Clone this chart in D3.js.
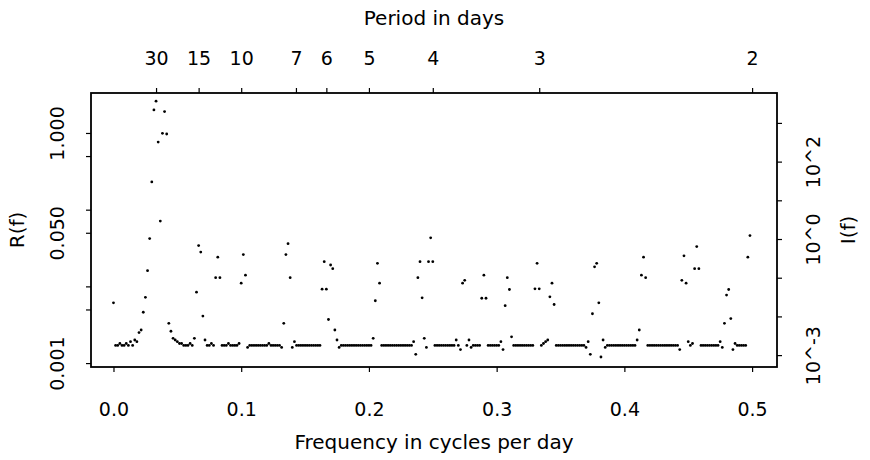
<!DOCTYPE html>
<html>
<head>
<meta charset="utf-8">
<script src="https://cdn.jsdelivr.net/npm/d3@7"></script>
<style>
  body { margin: 0; background: #fff; }
  text { font-family: 'DejaVu Sans', sans-serif; fill: #000; }
</style>
</head>
<body>
<div id="chart"></div>
<script>
// Periodogram: R(f) on the left log axis, I(f) on the right, frequency k / nDays

const nDays = 600
const freqTicks = [0, 0.1, 0.2, 0.3, 0.4, 0.5]
const periodTicks = [30, 15, 10, 7, 6, 5, 4, 3, 2]
const rTicks = [1, 0.5, 0.1, 0.05, 0.01, 0.005, 0.001]
const rTickLabels = ['1.000', '', '', '0.050', '', '', '0.001']
const iTicks = [1e-3, 1e-2, 1e-1, 1e0, 1e1, 1e2, 1e3]
const iTickLabels = ['10^-3', '', '', '10^0', '', '10^2', '']

// R(f), one value per Fourier frequency k = 0..299
const rf = [
  0.0061, 0.0017, 0.0017, 0.0018, 0.0017, 0.0017, 0.0018, 0.0017, 0.0019, 0.0017,
  0.0020, 0.0019, 0.0025, 0.0027, 0.0046, 0.0072, 0.016, 0.042, 0.23, 2.0,
  2.6, 0.76, 0.071, 0.99, 1.9, 0.97, 0.0033, 0.0026, 0.0021, 0.0020,
  0.0019, 0.0018, 0.0018, 0.0017, 0.0017, 0.0017, 0.0018, 0.0017, 0.0021, 0.0084,
  0.034, 0.028, 0.0041, 0.0020, 0.0017, 0.0017, 0.0018, 0.0017, 0.013, 0.024,
  0.013, 0.0017, 0.0017, 0.0017, 0.0018, 0.0017, 0.0017, 0.0017, 0.0017, 0.0018,
  0.011, 0.026, 0.014, 0.0016, 0.0017, 0.0017, 0.0017, 0.0017, 0.0017, 0.0017,
  0.0017, 0.0017, 0.0017, 0.0018, 0.0017, 0.0017, 0.0017, 0.0017, 0.0017, 0.0016,
  0.0033, 0.026, 0.036, 0.013, 0.0016, 0.0019, 0.0017, 0.0017, 0.0017, 0.0017,
  0.0017, 0.0017, 0.0017, 0.0017, 0.0017, 0.0017, 0.0017, 0.0017, 0.0092, 0.021,
  0.0092, 0.0037, 0.019, 0.017, 0.0027, 0.0020, 0.0016, 0.0017, 0.0017, 0.0017,
  0.0017, 0.0017, 0.0017, 0.0017, 0.0017, 0.0017, 0.0017, 0.0017, 0.0017, 0.0017,
  0.0017, 0.0017, 0.0021, 0.0065, 0.020, 0.011, 0.0017, 0.0017, 0.0017, 0.0017,
  0.0017, 0.0017, 0.0017, 0.0017, 0.0017, 0.0017, 0.0017, 0.0017, 0.0017, 0.0017,
  0.0017, 0.0019, 0.0013, 0.013, 0.021, 0.0071, 0.0021, 0.0016, 0.021, 0.043,
  0.021, 0.0017, 0.0017, 0.0017, 0.0017, 0.0017, 0.0017, 0.0017, 0.0017, 0.0017,
  0.0017, 0.0020, 0.0017, 0.0015, 0.011, 0.012, 0.0017, 0.0020, 0.0016, 0.0017,
  0.0017, 0.0017, 0.0017, 0.0070, 0.014, 0.0070, 0.0017, 0.0017, 0.0017, 0.0017,
  0.0017, 0.0017, 0.0019, 0.0015, 0.0056, 0.013, 0.0091, 0.0022, 0.0017, 0.0017,
  0.0017, 0.0017, 0.0017, 0.0017, 0.0017, 0.0017, 0.0017, 0.0017, 0.0093, 0.020,
  0.0093, 0.0017, 0.0018, 0.0019, 0.0020, 0.0073, 0.011, 0.0058, 0.0017, 0.0017,
  0.0017, 0.0017, 0.0017, 0.0017, 0.0017, 0.0017, 0.0017, 0.0017, 0.0017, 0.0017,
  0.0017, 0.0017, 0.0016, 0.0019, 0.0013, 0.0044, 0.018, 0.020, 0.0061, 0.0012,
  0.0020, 0.0016, 0.0017, 0.0017, 0.0017, 0.0017, 0.0017, 0.0017, 0.0017, 0.0017,
  0.0017, 0.0017, 0.0017, 0.0017, 0.0017, 0.0017, 0.0020, 0.0027, 0.014, 0.024,
  0.013, 0.0017, 0.0017, 0.0017, 0.0017, 0.0017, 0.0017, 0.0017, 0.0017, 0.0017,
  0.0017, 0.0017, 0.0017, 0.0017, 0.0017, 0.0017, 0.0015, 0.012, 0.025, 0.011,
  0.0019, 0.0017, 0.0018, 0.017, 0.033, 0.017, 0.0017, 0.0017, 0.0017, 0.0017,
  0.0017, 0.0017, 0.0017, 0.0017, 0.0017, 0.0019, 0.0016, 0.0033, 0.0077, 0.0091,
  0.0038, 0.0015, 0.0018, 0.0017, 0.0017, 0.0017, 0.0017, 0.0017, 0.024, 0.046
]

const width = 870
const height = 460
const box = { left: 91, right: 777, top: 93, bottom: 367 }

const data = rf.map((r, k) => ({ freq: k / nDays, r: r }))

const svg = d3.select('#chart')
  .append('svg')
  .attr('width', width)
  .attr('height', height)

svg.append('rect')
  .attr('width', width)
  .attr('height', height)
  .attr('fill', '#fff')

const x = d3.scaleLinear()
  .domain([-0.0176, 0.5195])
  .range([box.left, box.right])

const yR = d3.scaleLog()
  .domain([0.000889, 3.32])
  .range([box.bottom, box.top])

const yI = d3.scaleLog()
  .domain([4.93e-4, 5930])
  .range([box.bottom, box.top])

const styleAxis = (g) => {
  g.select('.domain').remove()
  g.selectAll('.tick line').attr('stroke', '#000').attr('stroke-width', 1.2)
  g.selectAll('.tick text').style('font-size', '19px').attr('fill', '#000')
}

// bottom: frequency
svg.append('g')
  .attr('transform', `translate(0,${box.bottom})`)
  .call(d3.axisBottom(x).tickValues(freqTicks).tickFormat(d3.format('.1f')).tickSize(5))
  .call(styleAxis)
  .call(g => g.selectAll('.tick text').attr('y', 42).attr('dy', '0.35em'))

// top: period in days
svg.append('g')
  .attr('transform', `translate(0,${box.top})`)
  .call(d3.axisTop(x).tickValues(periodTicks.map(p => 1 / p)).tickFormat((d, i) => periodTicks[i]).tickSize(5))
  .call(styleAxis)
  .call(g => g.selectAll('.tick text').attr('y', -35).attr('dy', '0.35em'))

// left: R(f)
svg.append('g')
  .attr('transform', `translate(${box.left},0)`)
  .call(d3.axisLeft(yR).tickValues(rTicks).tickFormat((d, i) => rTickLabels[i]).tickSize(5))
  .call(styleAxis)
  .call(g => g.selectAll('.tick text')
    .attr('transform', 'rotate(-90)')
    .attr('text-anchor', 'middle')
    .attr('x', 0)
    .attr('y', -34)
    .attr('dy', '0.35em'))

// right: I(f)
svg.append('g')
  .attr('transform', `translate(${box.right},0)`)
  .call(d3.axisRight(yI).tickValues(iTicks).tickFormat((d, i) => iTickLabels[i]).tickSize(5))
  .call(styleAxis)
  .call(g => g.selectAll('.tick text')
    .attr('transform', 'rotate(-90)')
    .attr('text-anchor', 'middle')
    .attr('x', 0)
    .attr('y', 36)
    .attr('dy', '0.35em'))

svg.append('rect')
  .attr('x', box.left)
  .attr('y', box.top)
  .attr('width', box.right - box.left)
  .attr('height', box.bottom - box.top)
  .attr('fill', 'none')
  .attr('stroke', '#000')
  .attr('stroke-width', 1.8)

svg.append('g')
  .selectAll('circle')
  .data(data)
  .enter()
  .append('circle')
  .attr('cx', d => x(d.freq))
  .attr('cy', d => yR(d.r))
  .attr('r', 1.4)
  .attr('fill', '#000')

const midY = (box.top + box.bottom) / 2

svg.append('text')
  .attr('x', (box.left + box.right) / 2)
  .attr('y', 18)
  .attr('dy', '0.35em')
  .attr('text-anchor', 'middle')
  .style('font-size', '20px')
  .text('Period in days')

svg.append('text')
  .attr('x', (box.left + box.right) / 2)
  .attr('y', 442)
  .attr('dy', '0.35em')
  .attr('text-anchor', 'middle')
  .style('font-size', '20px')
  .text('Frequency in cycles per day')

svg.append('text')
  .attr('transform', `translate(17,${midY}) rotate(-90)`)
  .attr('dy', '0.35em')
  .attr('text-anchor', 'middle')
  .style('font-size', '20px')
  .text('R(f)')

svg.append('text')
  .attr('transform', `translate(848,${midY}) rotate(-90)`)
  .attr('dy', '0.35em')
  .attr('text-anchor', 'middle')
  .style('font-size', '20px')
  .text('I(f)')
</script>
</body>
</html>
